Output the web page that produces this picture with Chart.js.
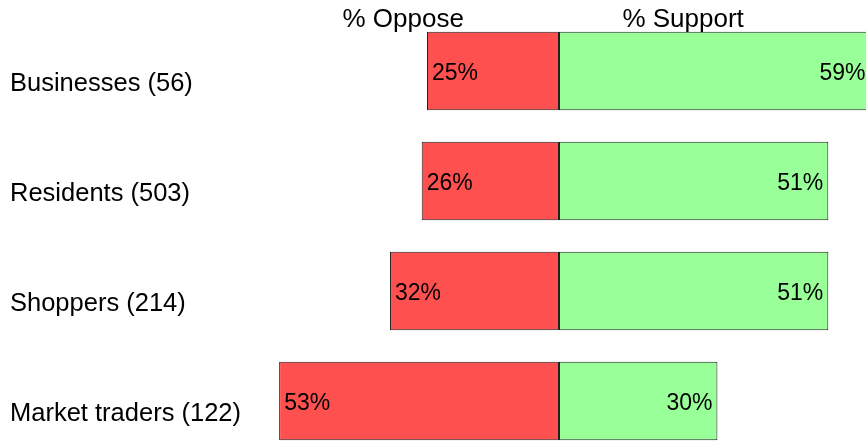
<!DOCTYPE html>
<html lang="en">
<head>
    <meta charset="UTF-8">
    <title>Oppose / Support</title>
    <script src="https://cdn.jsdelivr.net/npm/chart.js"></script>
    <style>
        body {
            margin: 0;
            padding: 0;
            background: #fff;
            overflow: hidden;
        }
        .chart-container {
            position: relative;
            width: 866px;
            height: 470px;
        }
    </style>
</head>
<body>
    <div class="chart-container">
        <canvas id="pollChart"></canvas>
    </div>
    <script>
        const groups = ['Businesses (56)', 'Residents (503)', 'Shoppers (214)', 'Market traders (122)'];
        const oppose = [25, 26, 32, 53];
        const support = [59, 51, 51, 30];
        const headers = ['% Oppose', '% Support'];

        const FAMILY = '"Liberation Sans", Arial, sans-serif';

        // group names, column headers and the % inside each bar
        const textPlugin = {
            id: 'pollText',
            afterDatasetsDraw(chart) {
                const c = chart.ctx;
                const xs = chart.scales.x;
                const ys = chart.scales.y;
                c.save();
                c.fillStyle = '#000';
                c.textBaseline = 'alphabetic';

                c.font = '26px ' + FAMILY;
                c.textAlign = 'center';
                c.fillText(headers[0], xs.getPixelForValue(-29.5), 27);
                c.fillText(headers[1], xs.getPixelForValue(23.5), 27);

                c.font = '25.5px ' + FAMILY;
                c.textAlign = 'left';
                groups.forEach((g, i) => {
                    c.fillText(g, 10, ys.getPixelForValue(i) + 20);
                });

                c.font = '23px ' + FAMILY;
                chart.getDatasetMeta(0).data.forEach((bar, i) => {
                    c.textAlign = 'left';
                    c.fillText(oppose[i] + '%', bar.x + 5, bar.y + 8.5);
                });
                chart.getDatasetMeta(1).data.forEach((bar, i) => {
                    c.textAlign = 'right';
                    c.fillText(support[i] + '%', bar.x - 5, bar.y + 8.5);
                });
                c.restore();
            }
        };

        const ctx = document.getElementById('pollChart').getContext('2d');
        new Chart(ctx, {
            type: 'bar',
            data: {
                labels: groups,
                datasets: [{
                    label: headers[0],
                    data: oppose.map(v => -v),
                    backgroundColor: '#ff5050',
                    borderColor: '#222',
                    borderWidth: 1,
                    borderSkipped: false
                }, {
                    label: headers[1],
                    data: support,
                    backgroundColor: '#99ff99',
                    borderColor: '#222',
                    borderWidth: 1,
                    borderSkipped: false
                }]
            },
            options: {
                indexAxis: 'y',
                responsive: true,
                maintainAspectRatio: false,
                animation: false,
                layout: { padding: { left: 270, right: 0, top: 16, bottom: 14 } },
                datasets: {
                    bar: { categoryPercentage: 1, barPercentage: 0.714 }
                },
                scales: {
                    x: {
                        stacked: true,
                        display: false,
                        min: -54.73,
                        max: 58.14
                    },
                    y: {
                        stacked: true,
                        display: false
                    }
                },
                plugins: {
                    legend: { display: false },
                    tooltip: { enabled: false }
                }
            },
            plugins: [textPlugin]
        });
    </script>
</body>
</html>
